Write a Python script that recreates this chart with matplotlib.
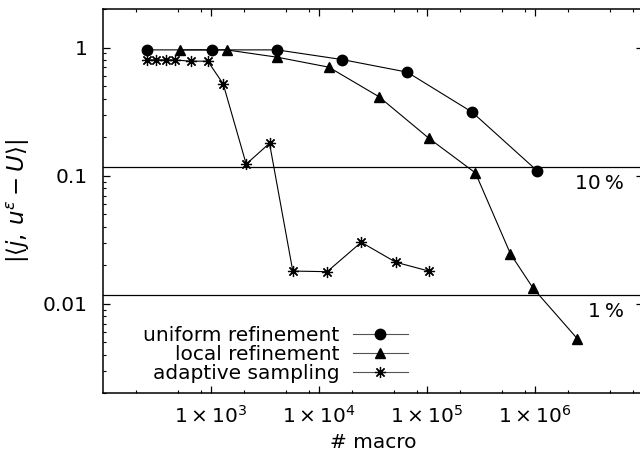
import matplotlib
matplotlib.use("Agg")
import matplotlib.pyplot as plt
from matplotlib.ticker import FixedLocator, FixedFormatter, NullFormatter
import numpy as np

# ---- data ----
uniform_x = [256, 1024, 4096, 16384, 65536, 262144, 1048576]
uniform_y = [0.959, 0.959, 0.959, 0.806, 0.643, 0.313, 0.109]

local_x = [514, 1392, 4096, 12330, 35800, 104000, 281000, 593000, 962000, 2460000]
local_y = [0.959, 0.959, 0.841, 0.703, 0.414, 0.196, 0.105, 0.0245, 0.0132, 0.00535]

adaptive_x = [257, 312, 381, 465, 646, 934, 1297, 2118, 3481, 5720, 11900, 24600, 51400, 104000]
adaptive_y = [0.801, 0.801, 0.801, 0.801, 0.783, 0.783, 0.520, 0.123, 0.179, 0.0180, 0.0178, 0.0302, 0.0211, 0.0180]

threshold_values = [0.1175, 0.01175]
threshold_labels = ["10\u2009%", "1\u2009%"]

series_labels = ["uniform refinement", "local refinement", "adaptive sampling"]

xtick_values = [1e3, 1e4, 1e5, 1e6]
xtick_labels = [r"$1 \times 10^{3}$", r"$1 \times 10^{4}$", r"$1 \times 10^{5}$", r"$1 \times 10^{6}$"]
ytick_values = [1, 0.1, 0.01]
ytick_labels = ["1", "0.1", "0.01"]

plt.rcParams['font.family'] = ['DejaVu Sans']
plt.rcParams['mathtext.fontset'] = 'dejavusans'
FS = 14.5

fig = plt.figure(figsize=(6.4, 4.54), dpi=100)
ax = fig.add_axes([103/640, (454-393.3)/454, 540/640, 384.3/454])

ax.set_xscale('log')
ax.set_yscale('log')
ax.set_xlim(1e2, 1e7)
ax.set_ylim(0.002, 2)

for v in threshold_values:
    ax.axhline(v, color='black', lw=0.9, zorder=1)

ast = (8, 2, 0)
ax.plot(uniform_x, uniform_y, color='black', lw=0.8, marker='o', ms=7.5,
        label=series_labels[0], zorder=3)
ax.plot(local_x, local_y, color='black', lw=0.8, marker='^', ms=6.5,
        label=series_labels[1], zorder=3)
ax.plot(adaptive_x, adaptive_y, color='black', lw=0.8, marker=ast, ms=8, mew=0.9,
        label=series_labels[2], zorder=3)

for v, lab in zip(threshold_values, threshold_labels):
    ax.text(6.7e6, v * 0.74, lab, ha='right', va='center', fontsize=FS)

ax.xaxis.set_major_locator(FixedLocator(xtick_values))
ax.xaxis.set_major_formatter(FixedFormatter(xtick_labels))
minx = [m * 10**e for e in range(2, 7) for m in (2, 5, 8)]
ax.xaxis.set_minor_locator(FixedLocator(minx))
ax.xaxis.set_minor_formatter(NullFormatter())

ax.yaxis.set_major_locator(FixedLocator(ytick_values))
ax.yaxis.set_major_formatter(FixedFormatter(ytick_labels))
miny = [m * 10**e for e in range(-3, 1) for m in range(2, 10)]
ax.yaxis.set_minor_locator(FixedLocator(miny))
ax.yaxis.set_minor_formatter(NullFormatter())

ax.tick_params(which='both', direction='in', top=True, right=True, labelsize=FS)
ax.tick_params(which='major', length=5, width=0.9)
ax.tick_params(which='minor', length=2.5, width=0.8)
ax.tick_params(axis='x', which='major', pad=8)
ax.tick_params(axis='y', which='major', pad=11)
for s in ax.spines.values():
    s.set_linewidth(1.1)

ax.set_xlabel("# macro", fontsize=FS, labelpad=5)
ax.set_ylabel(r"$|\langle j,\, u^{\varepsilon} - U\rangle|$", fontsize=16.5, labelpad=8)

leg = ax.legend(loc='upper right', bbox_to_anchor=(0.565, 0.175), frameon=False,
                markerfirst=False, fontsize=FS, handlelength=2.75, handletextpad=0.65,
                labelspacing=0.0, borderpad=0, borderaxespad=0)
for line in leg.get_lines():
    line.set_color('#555555')
    line.set_markerfacecolor('black')
    line.set_markeredgecolor('black')

fig.savefig("out.png", dpi=100)
